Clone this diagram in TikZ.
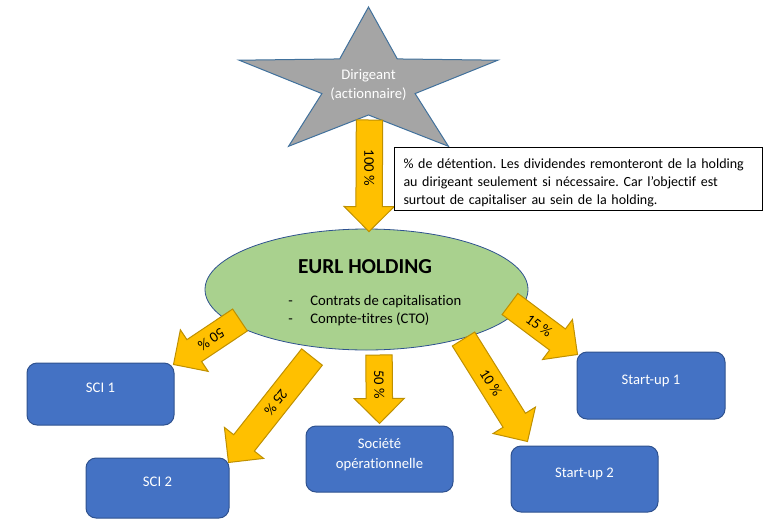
\documentclass[tikz,border=0pt]{standalone}
\usepackage{fontspec}
\setmainfont{Carlito}[Ligatures={NoCommon}]
\usetikzlibrary{calc,shapes.geometric}

\definecolor{jaune}{HTML}{FFC000}
\definecolor{jaunebord}{HTML}{BF9000}
\definecolor{bleubox}{HTML}{4472C4}
\definecolor{bleubord}{HTML}{2F528F}
\definecolor{vertell}{HTML}{A9D18E}
\definecolor{grisetoile}{HTML}{A5A5A5}
\definecolor{bordetoile}{HTML}{41719C}

\tikzset{
  societe/.style={rectangle, rounded corners=7.5pt, fill=bleubox, draw=bleubord,
    line width=0.75pt, text=white, align=center, inner sep=0pt,
    font=\fontsize{11}{15}\selectfont, text depth=9pt},
  holding/.style={ellipse, fill=vertell, draw=bleubord, line width=0.6pt, inner sep=0pt,
    minimum width=242.25pt, minimum height=90.75pt},
  etoile/.style={fill=grisetoile, draw=bordetoile, line width=0.75pt},
  note/.style={rectangle, fill=white, draw=black, line width=0.75pt, align=left,
    inner xsep=6.75pt, inner ysep=0pt, text width=262.5pt,
    minimum height=47.25pt, font=\fontsize{10.5}{13.5}\selectfont\frenchspacing},
  blk/.style={fill=jaune, draw=jaunebord, line width=0.75pt},
  pct/.style={font=\fontsize{11}{13}\selectfont, inner sep=0pt}
}

% block arrow: #1 = tail, #2 = tip, #3 = label
\newcommand\swid{9.9pt}   % half shaft width
\newcommand\hwid{18.75pt} % half head width
\newcommand\hlen{18.75pt} % head length
\newcommand\fleche[3]{%
  \coordinate (#1-b) at ($(#2)!\hlen!(#1)$);
  \filldraw[blk] ($(#1)!\swid!90:(#2)$) -- ($(#1-b)!\swid!90:(#2)$) -- ($(#1-b)!\hwid!90:(#2)$)
     -- (#2) -- ($(#1-b)!\hwid!-90:(#2)$) -- ($(#1-b)!\swid!-90:(#2)$) -- ($(#1)!\swid!-90:(#2)$) -- cycle;
  \path (#1) -- (#2) node[pos=0.43, sloped, allow upside down, pct] {#3};
}

\begin{document}
\begin{tikzpicture}[x=0.75pt, y=-0.75pt]
  \useasboundingbox (0,0) rectangle (769,522);
  \pgfmathsetmacro\ecx{368.5}
  \pgfmathsetmacro\ecy{84}
  \pgfmathsetmacro\eRx{136}  % outer radii
  \pgfmathsetmacro\eRy{77}
  \pgfmathsetmacro\erx{49}   % inner radii
  \pgfmathsetmacro\ery{31}

% star (shareholder)
  \filldraw[etoile] (\ecx,\ecy-\eRy) \foreach \k in {1,...,9} {
      -- ({\ecx+(isodd(\k)?\erx:\eRx)*cos(90+36*\k)}, {\ecy-(isodd(\k)?\ery:\eRy)*sin(90+36*\k)}) } -- cycle;
  \node[text=white, align=center, font=\fontsize{11}{14.25}\selectfont] (dirigeant) at (\ecx,84.5) {Dirigeant\\(actionnaire)};

% holding and subsidiaries
  \node[holding] (holding) at (366.5,289.5) {};
  \node[font=\fontsize{16}{19}\selectfont\bfseries] (titre) at (365,267) {EURL HOLDING};
  \node[anchor=west, align=left, inner sep=0pt, font=\fontsize{11}{13.5}\selectfont] (liste) at (288,311)
    {\makebox[16.5pt][l]{-}Contrats de capitalisation\\\makebox[16.5pt][l]{-}Compte-titres (CTO)};

  \node[societe, minimum width=110.25pt, minimum height=46.5pt] (sci1) at (100.5,394) {SCI 1};
  \node[societe, minimum width=107.25pt, minimum height=45pt]   (sci2) at (157.5,488) {SCI 2};
  \node[societe, minimum width=110.25pt, minimum height=49.5pt] (ope)  at (379.5,459) {Société\\opérationnelle};
  \node[societe, minimum width=111pt,    minimum height=50.25pt] (su1) at (651,385.5) {Start-up 1};
  \node[societe, minimum width=110.25pt, minimum height=49.5pt] (su2)  at (584.5,479) {Start-up 2};

% arrow ends
  \coordinate (a0) at (369.5,120);
  \coordinate (b0) at ($(holding.north)+(2.5,3)$);
  \coordinate (a1) at (240,320);
  \coordinate (b1) at ($(sci1.north east)+(-1,2)$);
  \coordinate (a2) at (312,357);
  \coordinate (b2) at ($(sci2.north east)+(-1,5)$);
  \coordinate (a3) at (379,355);
  \coordinate (b3) at ($(ope.north)+(0,-2)$);
  \coordinate (a4) at (463.5,339);
  \coordinate (b4) at ($(su2.north west)+(17,-4)$);
  \coordinate (a5) at (510,304);
  \coordinate (b5) at ($(su1.north west)+(1,3)$);

  \fleche{a0}{b0}{100 \%}
  \fleche{a1}{b1}{50 \%}
  \fleche{a2}{b2}{25 \%}
  \fleche{a3}{b3}{50 \%}
  \fleche{a4}{b4}{10 \%}
  \fleche{a5}{b5}{15 \%}

% comment box
  \node[note, anchor=north west] (note) at (394,147)
    {\rule{0pt}{13.5pt}\% de détention. Les dividendes remonteront de la holding\\
     au dirigeant seulement si nécessaire. Car l’objectif est\\
     surtout de capitaliser au sein de la holding.};

\end{tikzpicture}
\end{document}
